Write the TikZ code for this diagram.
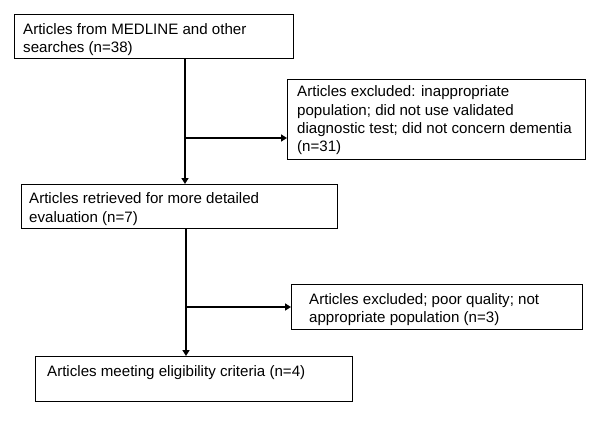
\documentclass[tikz,border=0pt]{standalone}
\usepackage{fontspec}
\setmainfont{Liberation Sans}
\usetikzlibrary{arrows.meta}
\begin{document}
\begin{tikzpicture}[x=1pt,y=1pt,
  box/.style={draw, line width=0.9pt, inner sep=0pt, anchor=north west},
  txt/.style={inner sep=0pt, anchor=base west, font=\fontsize{15.1}{18.4}\selectfont},
  conn/.style={line width=1.8pt},
  arr/.style={conn, -{Triangle[width=7pt,length=6pt]}}]
\useasboundingbox[fill=white] (0,0) rectangle (607,421);
\newcommand\flowtext[1]{\parbox[t]{400pt}{\raggedright #1}}
% boxes
\node[box, minimum width=279pt, minimum height=44pt] (b1) at (14,407) {};
\node[box, minimum width=298pt, minimum height=80pt] (b2) at (287,342) {};
\node[box, minimum width=316pt, minimum height=44pt] (b3) at (21,237) {};
\node[box, minimum width=291pt, minimum height=45pt] (b4) at (291,137) {};
\node[box, minimum width=317pt, minimum height=45pt] (b5) at (35,65) {};
% texts
\node[txt] (t1) at (23,386.5) {\flowtext{Articles from MEDLINE and other\\searches (n=38)}};
\node[txt] (t2) at (297,324.3) {\flowtext{Articles excluded: inappropriate\\population; did not use validated\\diagnostic test; did not concern dementia\\(n=31)}};
\node[txt] (t3) at (29,217.3) {\flowtext{Articles retrieved for more detailed\\evaluation (n=7)}};
\node[txt] (t4) at (309,117) {\flowtext{Articles excluded; poor quality; not\\appropriate population (n=3)}};
\node[txt] (t5) at (47,45) {\flowtext{Articles meeting eligibility criteria (n=4)}};
% connectors
\coordinate (c1) at (185,0);
\coordinate (c2) at (186,0);
\coordinate (j1) at (185,283);
\coordinate (j2) at (186,114);
\draw[arr] (b1.south -| c1) -- (b3.north -| c1);
\draw[arr] (j1) -- (j1 -| b2.west);
\draw[arr] (b3.south -| c2) -- (b5.north -| c2);
\draw[arr] (j2) -- (j2 -| b4.west);
\end{tikzpicture}
\end{document}
